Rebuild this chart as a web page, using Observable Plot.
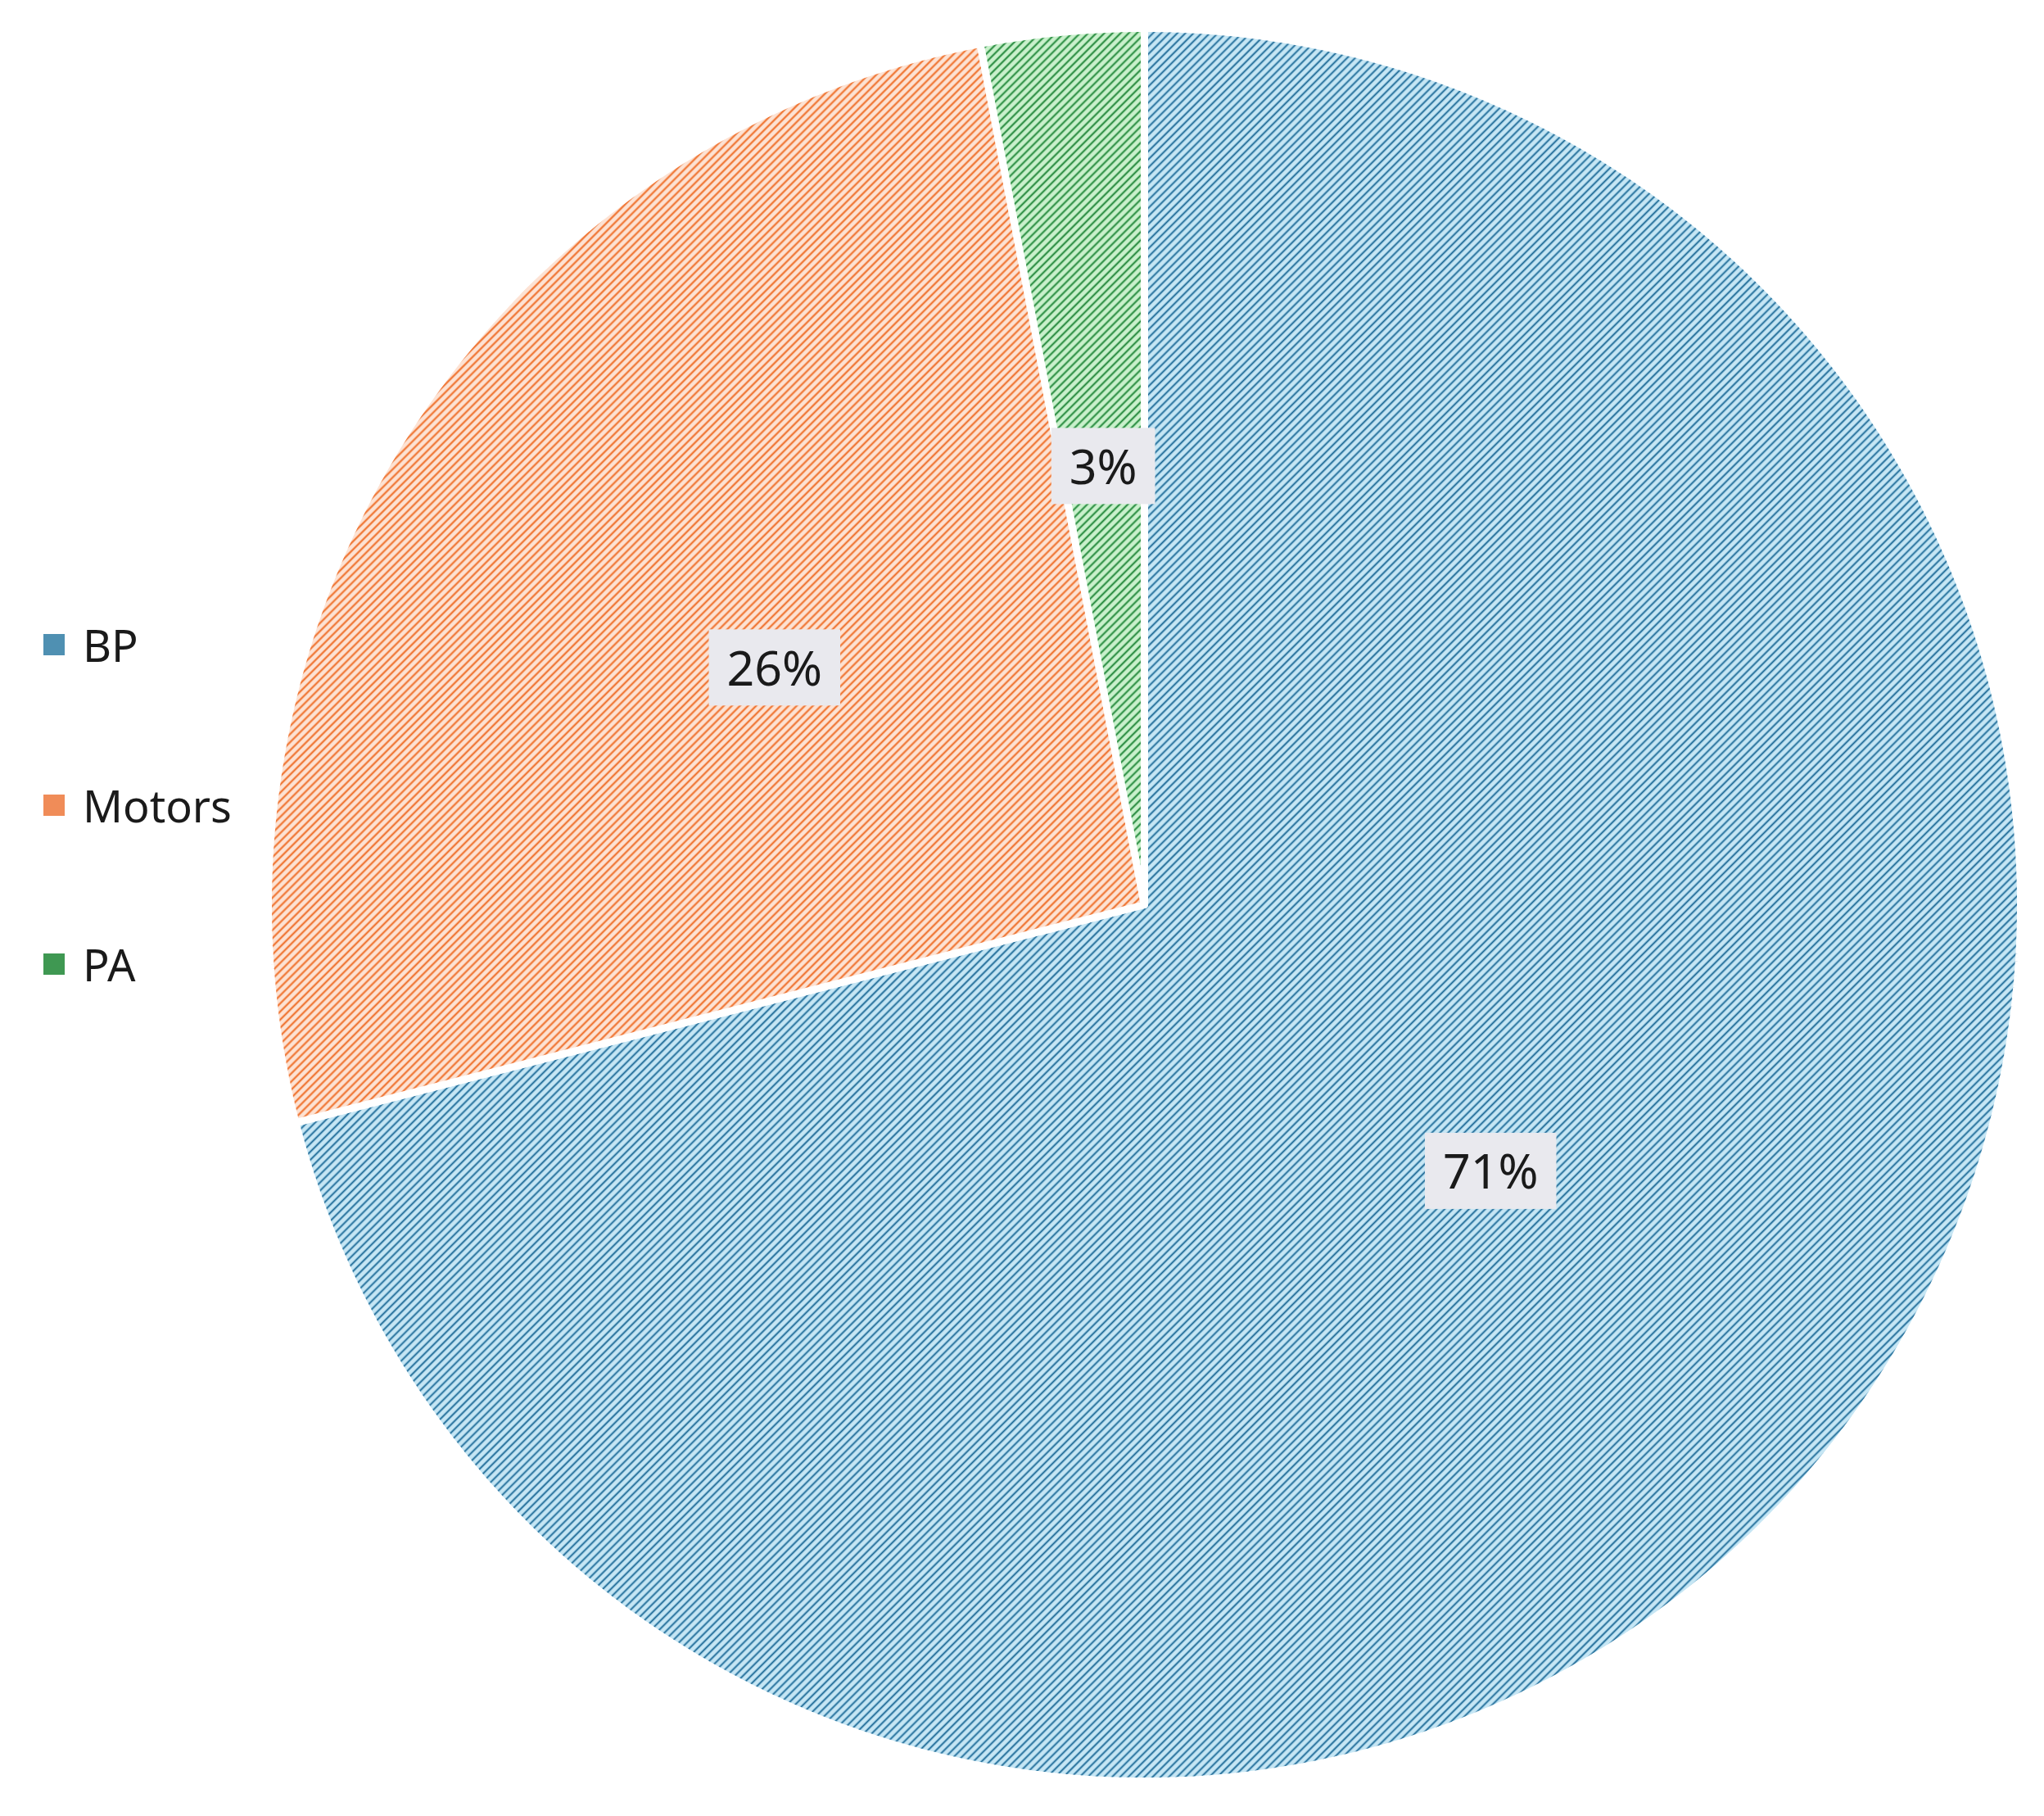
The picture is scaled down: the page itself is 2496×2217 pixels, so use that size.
<!DOCTYPE html>
<html>
<head>
<meta charset="utf-8">
<script src="https://cdn.jsdelivr.net/npm/d3@7"></script>
<script src="https://cdn.jsdelivr.net/npm/@observablehq/plot@0.6"></script>
<style>
  html, body { margin: 0; padding: 0; background: #ffffff; }
  #wrap { position: relative; width: 2496px; height: 2217px; }
  #legend { position: absolute; left: 0; top: 0; font-family: "Noto Sans", sans-serif; font-size: 54px; color: #1a1a1a; }
  .item { position: absolute; left: 53px; display: flex; align-items: center; white-space: nowrap; }
  .sw { width: 26px; height: 26px; margin-right: 22px; }
</style>
</head>
<body>
<div id="wrap"><div id="legend"></div></div>
<script>
// ---- data ----
const categories = ["BP", "Motors", "PA"];
const values = [71, 26, 3];
const labels = ["71%", "26%", "3%"];
const lightColors = ["#c6e6f4", "#fde2d3", "#caf0cc"];
const midColors = ["#7fb8d5", "#f6ab80", "#7bc98b"];
const darkColors = ["#1b6590", "#ee6a23", "#1f7e35"];
const swatchColors = ["#4f90b2", "#f08c58", "#3f9852"];

const W = 2496, H = 2217;
const cx = 1397, cy = 1104, R = 1070;

const slices = categories.map((c, i) => ({cat: c, value: values[i], label: labels[i], i}));
const arcs = d3.pie().sort(null).value(d => d.value).startAngle(0).endAngle(2 * Math.PI)(slices);

// polygon rows in unit-circle coordinates (angle clockwise from top)
const polyRows = [];
arcs.forEach(a => {
  const cat = a.data.cat;
  polyRows.push({cat, x: 0, y: 0});
  const n = Math.max(4, Math.ceil((a.endAngle - a.startAngle) / (Math.PI / 720)));
  for (let k = 0; k <= n; k++) {
    const t = a.startAngle + (a.endAngle - a.startAngle) * k / n;
    polyRows.push({cat, x: Math.sin(t), y: Math.cos(t)});
  }
  polyRows.push({cat, x: 0, y: 0});
});

const labelRows = arcs.map(a => {
  const m = (a.startAngle + a.endAngle) / 2;
  return {label: a.data.label, x: 0.5 * Math.sin(m), y: 0.5 * Math.cos(m)};
});

const marks = categories.map((c, i) =>
  Plot.line(polyRows.filter(d => d.cat === c), {
    x: "x", y: "y", fill: `url(#hatch${i})`, stroke: "#ffffff", strokeWidth: 9, strokeLinejoin: "miter"
  })
);
marks.push(Plot.text(labelRows, {
  x: "x", y: "y", text: "label", fontSize: 59, fill: "#1a1a1a",
  fontFamily: "Noto Sans, sans-serif"
}));

const chart = Plot.plot({
  width: W, height: H,
  marginLeft: cx - R, marginRight: W - (cx + R),
  marginTop: cy - R, marginBottom: H - (cy + R),
  x: {domain: [-1, 1], axis: null},
  y: {domain: [-1, 1], axis: null},
  style: {background: "transparent", overflow: "visible"},
  marks
});

// hatch patterns
const ns = "http://www.w3.org/2000/svg";
const defs = document.createElementNS(ns, "defs");
const P = 7;
function makePattern(id, i) {
  const p = document.createElementNS(ns, "pattern");
  p.setAttribute("id", id);
  p.setAttribute("patternUnits", "userSpaceOnUse");
  p.setAttribute("width", P);
  p.setAttribute("height", P);
  p.setAttribute("patternTransform", "rotate(-45)");
  const r0 = document.createElementNS(ns, "rect");
  r0.setAttribute("width", P); r0.setAttribute("height", P); r0.setAttribute("fill", lightColors[i]);
  const r1 = document.createElementNS(ns, "rect");
  r1.setAttribute("width", P); r1.setAttribute("y", 0); r1.setAttribute("height", 3); r1.setAttribute("fill", midColors[i]);
  const r2 = document.createElementNS(ns, "rect");
  r2.setAttribute("width", P); r2.setAttribute("y", 0.9); r2.setAttribute("height", 1.2); r2.setAttribute("fill", darkColors[i]);
  p.append(r0, r1, r2);
  return p;
}
categories.forEach((c, i) => defs.appendChild(makePattern(`hatch${i}`, i)));
chart.insertBefore(defs, chart.firstChild);

document.getElementById("wrap").insertBefore(chart, document.getElementById("legend"));

// label background boxes
const sx = chart.scale("x"), sy = chart.scale("y");
const textGroup = chart.querySelector('g[aria-label="text"]');
textGroup.querySelectorAll("text").forEach((t, k) => {
  const b = t.getBoundingClientRect();
  const d = labelRows[k];
  const px = sx.apply(d.x), py = sy.apply(d.y);
  const w = b.width + 44, h = 93;
  const rect = document.createElementNS(ns, "rect");
  rect.setAttribute("x", px - w / 2);
  rect.setAttribute("y", py - 3 - h / 2);
  rect.setAttribute("width", w);
  rect.setAttribute("height", h);
  rect.setAttribute("fill", "#e9e9ee");
  textGroup.insertBefore(rect, t);
});

// legend
const legend = document.getElementById("legend");
const legendY = [787, 983, 1177];
categories.forEach((c, i) => {
  const item = document.createElement("div");
  item.className = "item";
  item.style.top = (legendY[i] - 40) + "px";
  item.style.height = "80px";
  const sw = document.createElement("div");
  sw.className = "sw";
  sw.style.background = swatchColors[i];
  const tx = document.createElement("span");
  tx.textContent = c;
  item.append(sw, tx);
  legend.appendChild(item);
});
</script>
</body>
</html>
